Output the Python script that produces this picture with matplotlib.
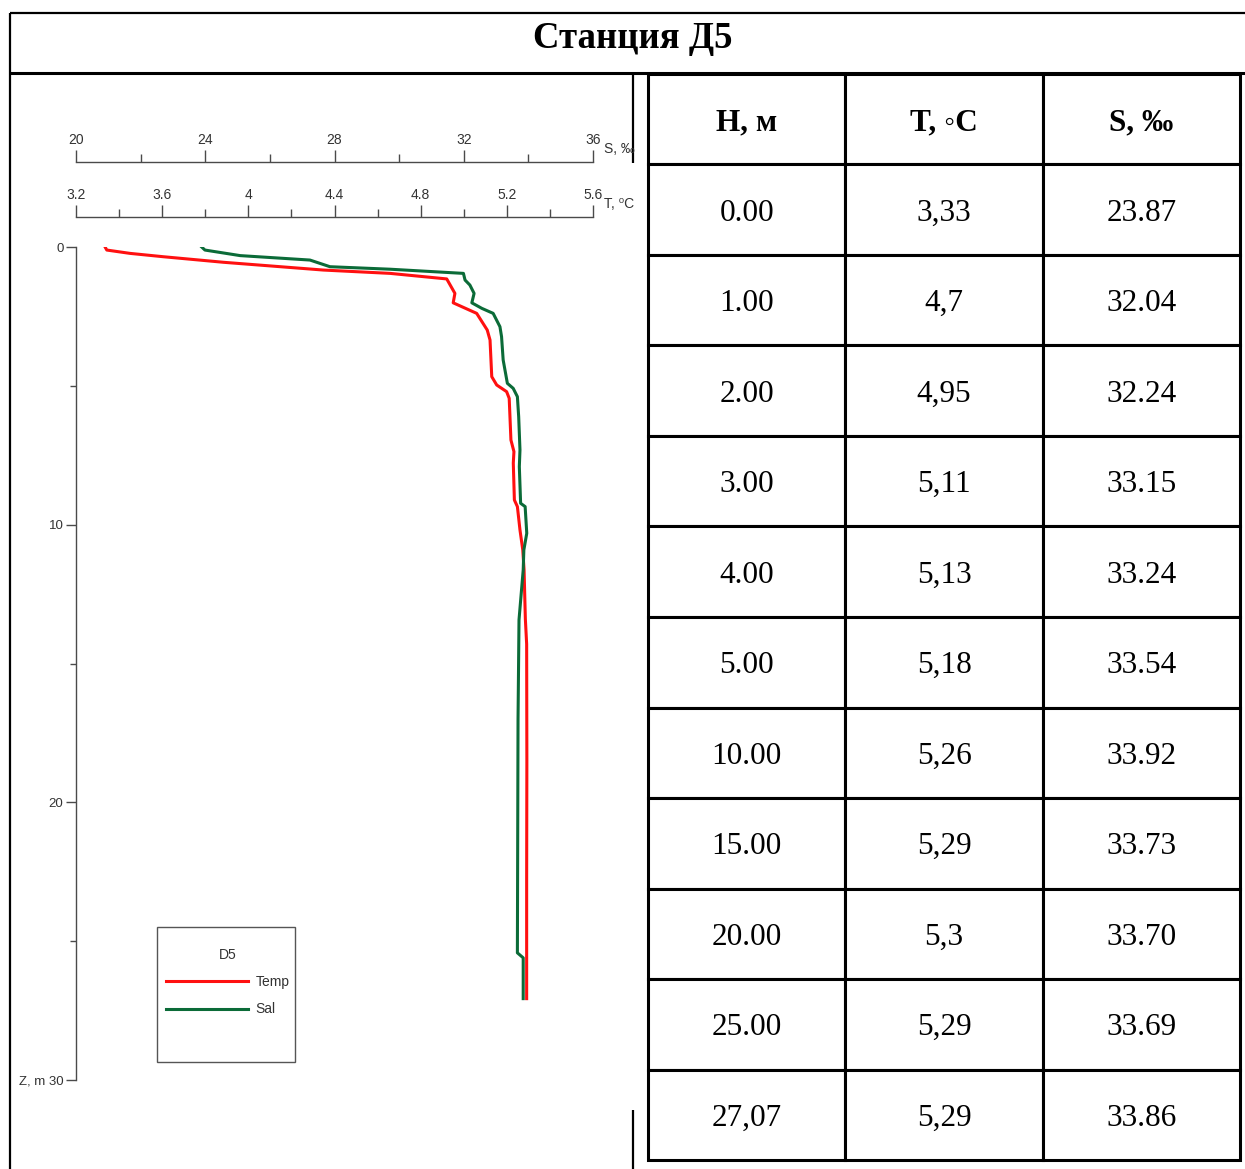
import matplotlib
matplotlib.use("Agg")
import matplotlib.pyplot as plt
from matplotlib.lines import Line2D
from matplotlib.patches import Rectangle

W, H = 1245, 1169
DPI = 100

# ---------------- profile data ----------------
temp_z = [0.00, 0.11, 0.23, 0.35, 0.55, 0.83, 0.95, 1.15, 1.67, 2.01, 2.39, 2.99,
          3.35, 4.67, 4.97, 5.21, 5.45, 6.95, 7.37, 7.78, 9.11, 9.35, 10.19, 10.91,
          11.63, 13.40, 14.30, 18.50, 22.80, 27.07]
temp_t = [3.335, 3.343, 3.451, 3.605, 3.884, 4.348, 4.658, 4.921, 4.959, 4.951, 5.060, 5.109,
          5.122, 5.130, 5.153, 5.199, 5.211, 5.219, 5.233, 5.230, 5.235, 5.249, 5.261, 5.274,
          5.280, 5.286, 5.292, 5.293, 5.292, 5.292]

sal_z = [0.00, 0.11, 0.31, 0.47, 0.71, 0.80, 0.95, 1.19, 1.37, 1.67, 2.01, 2.21, 2.39,
         2.87, 3.23, 4.07, 4.91, 5.09, 5.39, 6.11, 7.31, 7.91, 9.23, 9.35, 10.31, 10.91,
         11.63, 13.43, 17.00, 25.42, 25.60, 27.07]
sal_s = [23.89, 23.99, 25.08, 27.24, 27.86, 29.72, 31.99, 32.04, 32.19, 32.32, 32.25, 32.56, 32.91,
         33.12, 33.17, 33.22, 33.35, 33.53, 33.66, 33.70, 33.74, 33.72, 33.76, 33.90, 33.95, 33.86,
         33.84, 33.71, 33.68, 33.66, 33.84, 33.84]

# ---------------- table data ----------------
tbl_header = ["H, м", "T, ◦C", "S, ‰"]
tbl_depth = ["0.00", "1.00", "2.00", "3.00", "4.00", "5.00",
             "10.00", "15.00", "20.00", "25.00", "27,07"]
tbl_temp = ["3,33", "4,7", "4,95", "5,11", "5,13", "5,18",
            "5,26", "5,29", "5,3", "5,29", "5,29"]
tbl_sal = ["23.87", "32.04", "32.24", "33.15", "33.24", "33.54",
           "33.92", "33.73", "33.70", "33.69", "33.86"]

SANS = ["Liberation Sans Narrow", "Liberation Sans", "DejaVu Sans"]
SERIF = ["Liberation Serif", "DejaVu Serif"]
AXC = "#4a4a4a"


def px_rect(x0, y0, x1, y1):
    return [x0 / W, 1 - y1 / H, (x1 - x0) / W, (y1 - y0) / H]


def px_line(fig, xs, ys, lw):
    fig.add_artist(Line2D([x / W for x in xs], [1 - y / H for y in ys],
                          transform=fig.transFigure, color="black", lw=lw,
                          solid_capstyle="butt"))


fig = plt.figure(figsize=(W / DPI, H / DPI), dpi=DPI)

# frame of the page table
px_line(fig, [10, 10], [13, 1169], 1.6)
px_line(fig, [10, 1245], [13, 13], 1.6)
px_line(fig, [10, 1245], [73, 73], 2.2)
px_line(fig, [633, 633], [75, 163], 1.6)
px_line(fig, [633, 633], [1110, 1169], 1.6)

fig.text(633 / W, 1 - 35 / H, "Станция Д5", family=SERIF, fontweight="bold",
         fontsize=26.5, ha="center", va="center_baseline")

# ---------------- profile plot ----------------
ax = fig.add_axes(px_rect(76, 247, 593, 1080))
ax.set_ylim(30, 0)
ax.set_xticks([])
for s in ["top", "right", "bottom"]:
    ax.spines[s].set_visible(False)
ax.spines["left"].set_color(AXC)
ax.spines["left"].set_linewidth(1.0)
ax.set_yticks([0, 10, 20, 30])
ax.set_yticklabels(["0", "10", "20", "Z, m 30"])
ax.set_yticks([5, 15, 25], minor=True)
ax.tick_params(axis="y", which="major", length=7, width=1.0, color=AXC,
               labelsize=9.5, pad=2, labelcolor="#333333")
ax.tick_params(axis="y", which="minor", length=4, width=1.0, color=AXC)
for lab in ax.get_yticklabels():
    lab.set_family(SANS)

ax_t = ax.twiny()
ax_t.set_xlim(3.2, 5.6)
ax_s = ax.twiny()
ax_s.set_xlim(20, 36)

for a, off, major, minor in [(ax_t, 30, [3.2, 3.6, 4.0, 4.4, 4.8, 5.2, 5.6],
                              [3.4, 3.8, 4.2, 4.6, 5.0, 5.4]),
                             (ax_s, 85, [20, 24, 28, 32, 36], [22, 26, 30, 34])]:
    for s in ["left", "right", "bottom"]:
        a.spines[s].set_visible(False)
    a.spines["top"].set_position(("outward", off * 72 / DPI))
    a.spines["top"].set_color(AXC)
    a.spines["top"].set_linewidth(1.0)
    a.set_xticks(major)
    a.set_xticks(minor, minor=True)
    a.tick_params(axis="x", which="major", direction="out", length=9, width=1.0,
                  color=AXC, labelsize=10, pad=2, labelcolor="#333333")
    a.tick_params(axis="x", which="minor", direction="out", length=6, width=1.0,
                  color=AXC)
    a.xaxis.set_major_formatter(matplotlib.ticker.FuncFormatter(lambda v, p: f"{v:g}"))
    for lab in a.get_xticklabels():
        lab.set_family(SANS)

fig.text(604 / W, 1 - 149 / H, "S, ‰", family=SANS, fontsize=10, color="#333333",
         ha="left", va="center")
fig.text(604 / W, 1 - 204 / H, "T, ⁰C", family=SANS, fontsize=10, color="#333333",
         ha="left", va="center")

l_t, = ax_t.plot(temp_t, temp_z, color="#ff1010", lw=2.2, label="Temp")
l_s, = ax_s.plot(sal_s, sal_z, color="#0b6b38", lw=2.2, label="Sal")

fig.add_artist(Rectangle((157 / W, 1 - 1062 / H), 138 / W, 135 / H,
                         transform=fig.transFigure, fill=False,
                         edgecolor="#555555", lw=1.0))
leg = fig.legend(handles=[l_t, l_s], title="D5", frameon=False,
                 loc="upper left", bbox_to_anchor=(163 / W, 1 - 945 / H),
                 prop={"family": SANS, "size": 10},
                 title_fontproperties={"family": SANS, "size": 10},
                 handlelength=5.9, handletextpad=0.55, labelspacing=0.96,
                 borderpad=0.2, borderaxespad=0)
plt.setp(leg.get_texts(), color="#333333")
leg.get_title().set_color("#333333")

# ---------------- value table ----------------
ax_tab = fig.add_axes(px_rect(648, 74, 1240, 1160))
ax_tab.axis("off")
rows = [[d, t, s] for d, t, s in zip(tbl_depth, tbl_temp, tbl_sal)]
tab = ax_tab.table(cellText=rows, colLabels=tbl_header, cellLoc="center",
                   bbox=[0, 0, 1, 1])
tab.auto_set_font_size(False)
for (r, c), cell in tab.get_celld().items():
    cell.set_linewidth(2.2)
    cell.set_edgecolor("black")
    txt = cell.get_text()
    txt.set_family(SERIF)
    txt.set_fontsize(22.5)
    txt.set_va("center_baseline")
    if r == 0:
        txt.set_fontweight("bold")

fig.savefig("out.png", dpi=DPI)
